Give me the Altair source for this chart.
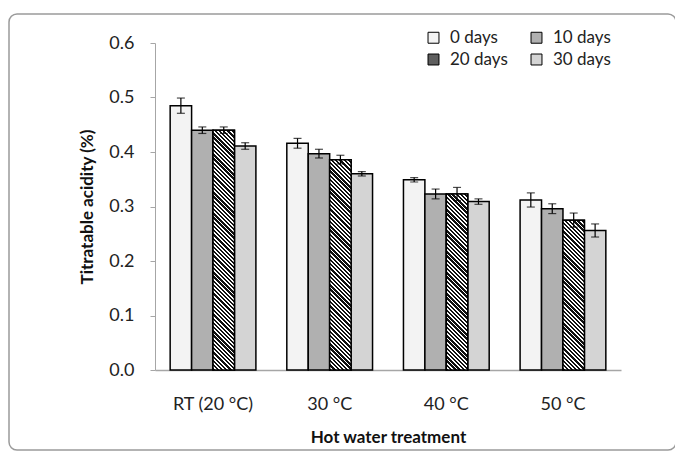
import altair as alt
import pandas as pd

groups = ["RT (20 °C)", "30 °C", "40 °C", "50 °C"]
series = ["0 days", "10 days", "20 days", "30 days"]
v0 = [0.485, 0.416, 0.349, 0.312]
v10 = [0.440, 0.397, 0.323, 0.296]
v20 = [0.440, 0.386, 0.323, 0.275]
v30 = [0.411, 0.360, 0.309, 0.256]
e0 = [0.014, 0.009, 0.004, 0.013]
e10 = [0.006, 0.008, 0.009, 0.009]
e20 = [0.006, 0.008, 0.012, 0.013]
e30 = [0.006, 0.004, 0.005, 0.012]
fills = ["#f3f3f3", "#b0b0b0", "#5e5e5e", "#d4d4d4"]
legend_order = ["0 days", "20 days", "10 days", "30 days"]

rows = []
for s, vals, errs in zip(series, [v0, v10, v20, v30], [e0, e10, e20, e30]):
    for g, v, e in zip(groups, vals, errs):
        rows.append({"group": g, "series": s, "value": v, "lo": v - e, "hi": v + e})
df = pd.DataFrame(rows)

FONT = "Lato"
W, H = 466, 327
Y_MAX = 0.6
P_IN, P_OUT = 0.265, 0.13
BAR_W = W / (len(groups) - P_IN + 2 * P_OUT) * (1 - P_IN) / len(series)


def stripe_gradient(v, period=4.2, dark=0.55):
    # diagonal "\" hatch for one bar, expressed in the bar's bounding box
    h = v / Y_MAX * H
    w = BAR_W
    k = h / w
    s = (1 + k) / (1 + k * k)
    n = max(1, round((w + h) / period))
    stops = []
    for i in range(n):
        a, b, c = i / n, (i + dark) / n, (i + 1) / n
        stops += [alt.GradientStop(offset=a, color="#111"),
                  alt.GradientStop(offset=b, color="#111"),
                  alt.GradientStop(offset=b, color="white"),
                  alt.GradientStop(offset=c, color="white")]
    return alt.LinearGradient(gradient="linear", stops=stops,
                              x1=0, y1=1, x2=s, y2=1 - s * k)


x = alt.X("group:N", sort=groups, title="Hot water treatment",
          scale=alt.Scale(paddingInner=P_IN, paddingOuter=P_OUT),
          axis=alt.Axis(labelAngle=0, ticks=False, domainColor="#a6a6a6", domainWidth=1.5,
                        labelPadding=25, titlePadding=16,
                        labelFont=FONT, labelFontSize=18, labelColor="#222",
                        titleFont=FONT, titleFontSize=17, titleColor="#111",
                        titleFontWeight="bold"))
x_plain = alt.X("group:N", sort=groups)
xo = alt.XOffset("series:N", sort=series,
                 scale=alt.Scale(domain=series, paddingInner=0, paddingOuter=0))

base = alt.Chart(df)

bars = base.mark_bar(stroke="black", strokeWidth=1.5).encode(
    x=x,
    xOffset=xo,
    y=alt.Y("value:Q", title="Titratable acidity (%)",
            scale=alt.Scale(domain=[0, Y_MAX], nice=False),
            axis=alt.Axis(values=[0, 0.1, 0.2, 0.3, 0.4, 0.5, 0.6], format=".1f", grid=False,
                          domainColor="#a6a6a6", tickColor="#a6a6a6", tickSize=5,
                          labelPadding=16, titlePadding=12,
                          labelFont=FONT, labelFontSize=18, labelColor="#222",
                          titleFont=FONT, titleFontSize=17, titleColor="#111",
                          titleFontWeight="bold")),
    color=alt.Color("series:N", sort=series,
                    scale=alt.Scale(domain=series, range=fills),
                    legend=alt.Legend(title=None, orient="none", legendX=270, legendY=-14,
                                      columns=2, values=legend_order,
                                      symbolType="square", symbolSize=120,
                                      symbolStrokeColor="black", symbolStrokeWidth=1,
                                      labelFontSize=17, labelFont=FONT, labelColor="#222",
                                      columnPadding=20, rowPadding=4, labelOffset=8)),
)

hatch_layers = []
for g, v in zip(groups, v20):
    hatch_layers.append(
        base.transform_filter((alt.datum.group == g) & (alt.datum.series == "20 days"))
        .mark_bar(fill=stripe_gradient(v), stroke="black", strokeWidth=1.5)
        .encode(x=x_plain, xOffset=xo, y="value:Q")
    )

rules = base.mark_rule(color="black", strokeWidth=1.2).encode(
    x=x_plain, xOffset=xo, y="lo:Q", y2="hi:Q")
cap_lo = base.mark_tick(color="black", size=8, thickness=1.2).encode(
    x=x_plain, xOffset=xo, y="lo:Q")
cap_hi = base.mark_tick(color="black", size=8, thickness=1.2).encode(
    x=x_plain, xOffset=xo, y="hi:Q")

border = alt.Chart(pd.DataFrame({"a": [0]})).mark_rect(
    fillOpacity=0, stroke="#9a9a9a", strokeWidth=1.5, cornerRadius=8).encode(
    x=alt.value(-146), x2=alt.value(521), y=alt.value(-29), y2=alt.value(407))

chart = alt.layer(bars, *hatch_layers, rules, cap_lo, cap_hi, border).properties(
    width=W, height=H,
    background="white",
    autosize=alt.AutoSizeParams(type="none"),
    padding={"left": 147, "top": 35, "right": 54, "bottom": 81},
).configure_view(stroke=None)

chart.save("out.html", embed_options={"renderer": "svg", "actions": False})
